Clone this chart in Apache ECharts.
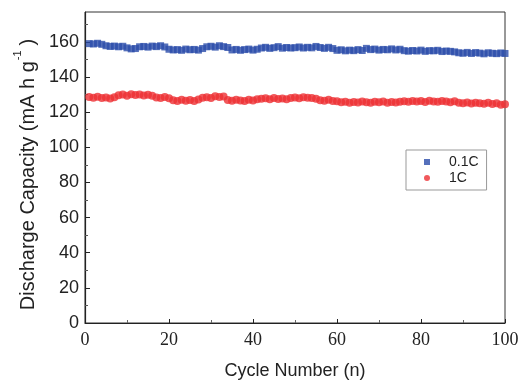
<!DOCTYPE html>
<html>
<head>
<meta charset="utf-8">
<script src="https://cdn.jsdelivr.net/npm/echarts@6/dist/echarts.min.js"></script>
<style>html,body{margin:0;padding:0;background:#fff;}#c{width:520px;height:381px;}</style>
</head>
<body>
<div id="c"></div>
<script>
const cycles = [];
for (let i = 1; i <= 100; i++) cycles.push(i);

const cap01C = [
  159.0, 158.8, 159.2, 158.6,
  157.8, 157.4, 157.6, 157.2, 157.5, 156.6,
  156.0, 156.2,
  157.2, 157.4, 157.0, 157.6, 157.3, 157.8, 157.1,
  155.8, 155.4, 155.6, 155.2, 155.9, 155.5, 155.7, 155.3, 156.2,
  157.2, 157.5, 157.0, 157.8, 157.3, 156.8,
  155.4, 155.7, 155.2, 155.6, 155.9, 155.3, 155.8,
  156.5, 156.9, 156.3, 156.7, 157.3, 156.4, 156.8, 156.5,
  156.7, 157.1, 156.5, 156.9, 156.6, 157.4, 156.8, 156.3, 156.9, 156.2,
  155.2, 155.5, 154.9, 155.3, 155.0, 155.6, 155.1, 156.3,
  155.6, 155.9, 155.3, 155.7, 155.5, 156.0, 155.4, 155.8,
  155.0, 154.7, 155.1, 154.8, 155.3, 154.6, 155.0, 154.9, 155.2, 154.5, 154.8, 154.6, 154.3,
  153.8, 153.5, 154.0, 153.4, 153.9, 153.6, 153.2, 153.8, 153.5, 153.3, 153.7, 153.4
];

const cap1C = [
  128.6, 128.2, 128.8,
  128.0, 128.4, 127.8, 128.5,
  129.6, 130.0, 129.4, 130.2, 129.8, 130.1, 129.5, 129.9, 129.3,
  128.4, 128.0, 128.6, 127.9,
  126.8, 126.4, 127.0, 126.5, 126.9, 126.3, 127.2,
  128.2, 128.5, 128.0,
  129.0, 128.6, 128.9,
  126.9, 126.5, 127.1, 126.6, 126.3, 127.0, 126.7, 127.3,
  127.6, 127.9, 127.4, 128.0, 127.5, 127.8, 127.3, 128.1,
  128.3, 127.9, 128.5, 128.2, 128.0, 127.6,
  126.8, 126.5, 127.0, 126.4, 126.2,
  125.6, 125.9, 125.4, 125.8, 125.5, 126.1, 125.7, 125.3, 125.9, 125.6, 126.0, 125.4, 125.8, 125.5, 125.9,
  126.2, 125.9, 126.4, 126.0, 126.3, 125.8, 126.5, 126.1, 125.9, 126.4, 126.0, 125.7, 126.2,
  125.3, 125.0, 125.5, 124.9, 125.4, 125.1, 124.8, 125.3, 124.6, 125.0, 124.2, 124.5
];

const seriesNames = ['0.1C', '1C'];
const yMajorTicks = [0, 20, 40, 60, 80, 100, 120, 140, 160];
const yMinorTicks = [10, 30, 50, 70, 90, 110, 130, 150, 170];
const xRange = [0, 100];
const yRange = [0, 177];

const chart = echarts.init(document.getElementById('c'), null, {renderer: 'canvas'});
const axisColor = '#222';
chart.setOption({
  animation: false,
  backgroundColor: '#fff',
  grid: {left: 85, right: 15, top: 12, bottom: 58, outerBoundsMode: 'none', containLabel: false,
         show: true, borderColor: '#333', borderWidth: 1, backgroundColor: 'transparent'},
  legend: {
    orient: 'vertical', left: 406, top: 150,
    padding: [5, 8, 5, 18], itemGap: 2,
    itemWidth: 6, itemHeight: 6,
    borderColor: '#999', borderWidth: 1,
    textStyle: {fontFamily: 'Liberation Sans', fontSize: 14, color: '#222', padding: [0, 0, 0, 14]},
    data: [{name: seriesNames[0], icon: 'rect'}, {name: seriesNames[1], icon: 'circle'}]
  },
  xAxis: {
    type: 'value', min: xRange[0], max: xRange[1], interval: 20,
    name: 'Cycle Number (n)', nameLocation: 'middle', nameGap: 39,
    nameTextStyle: {fontFamily: 'Liberation Sans', fontSize: 18, color: '#222'},
    axisLine: {show: true, lineStyle: {color: axisColor, width: 1.2}},
    axisTick: {show: true, inside: true, length: 4, lineStyle: {color: axisColor}},
    minorTick: {show: true, splitNumber: 2, length: 3, lineStyle: {color: '#666'}},
    axisLabel: {fontFamily: 'Liberation Serif', fontSize: 18, color: '#222', margin: 8},
    splitLine: {show: false}
  },
  yAxis: [{
    type: 'value', min: yRange[0], max: yRange[1],
    name: '{b|Discharge Capacity (mA h g}{s|-1}{b|)}', nameLocation: 'middle', nameGap: 46,
    nameTextStyle: {fontFamily: 'Liberation Sans', color: '#222', padding: [0, 14, 0, 0],
      rich: {b: {fontFamily: 'Liberation Sans', fontSize: 20, color: '#222', lineHeight: 26, verticalAlign: 'bottom'},
             s: {fontFamily: 'Liberation Sans', fontSize: 11, color: '#222', lineHeight: 26, verticalAlign: 'top', padding: [0, 5, 0, 1]}}},
    axisLine: {show: true, lineStyle: {color: axisColor, width: 1.2}},
    axisTick: {show: true, inside: true, length: 5, customValues: yMajorTicks, lineStyle: {color: axisColor}},
    axisLabel: {fontFamily: 'Liberation Sans', fontSize: 18, color: '#222', margin: 6, customValues: yMajorTicks},
    splitLine: {show: false}
  }, {
    type: 'value', min: yRange[0], max: yRange[1], position: 'left',
    axisLine: {show: false},
    axisTick: {show: true, inside: true, length: 3, customValues: yMinorTicks, lineStyle: {color: '#555'}},
    axisLabel: {show: false},
    splitLine: {show: false}
  }],
  series: [
    {name: seriesNames[0], type: 'scatter', symbol: 'rect', symbolSize: 7,
     itemStyle: {color: '#2b4caa'}, data: cycles.map((c, i) => [c, cap01C[i]])},
    {name: seriesNames[1], type: 'scatter', symbol: 'circle', symbolSize: 8,
     itemStyle: {color: '#ee2f33'}, data: cycles.map((c, i) => [c, cap1C[i]])}
  ]
});
</script>
</body>
</html>
